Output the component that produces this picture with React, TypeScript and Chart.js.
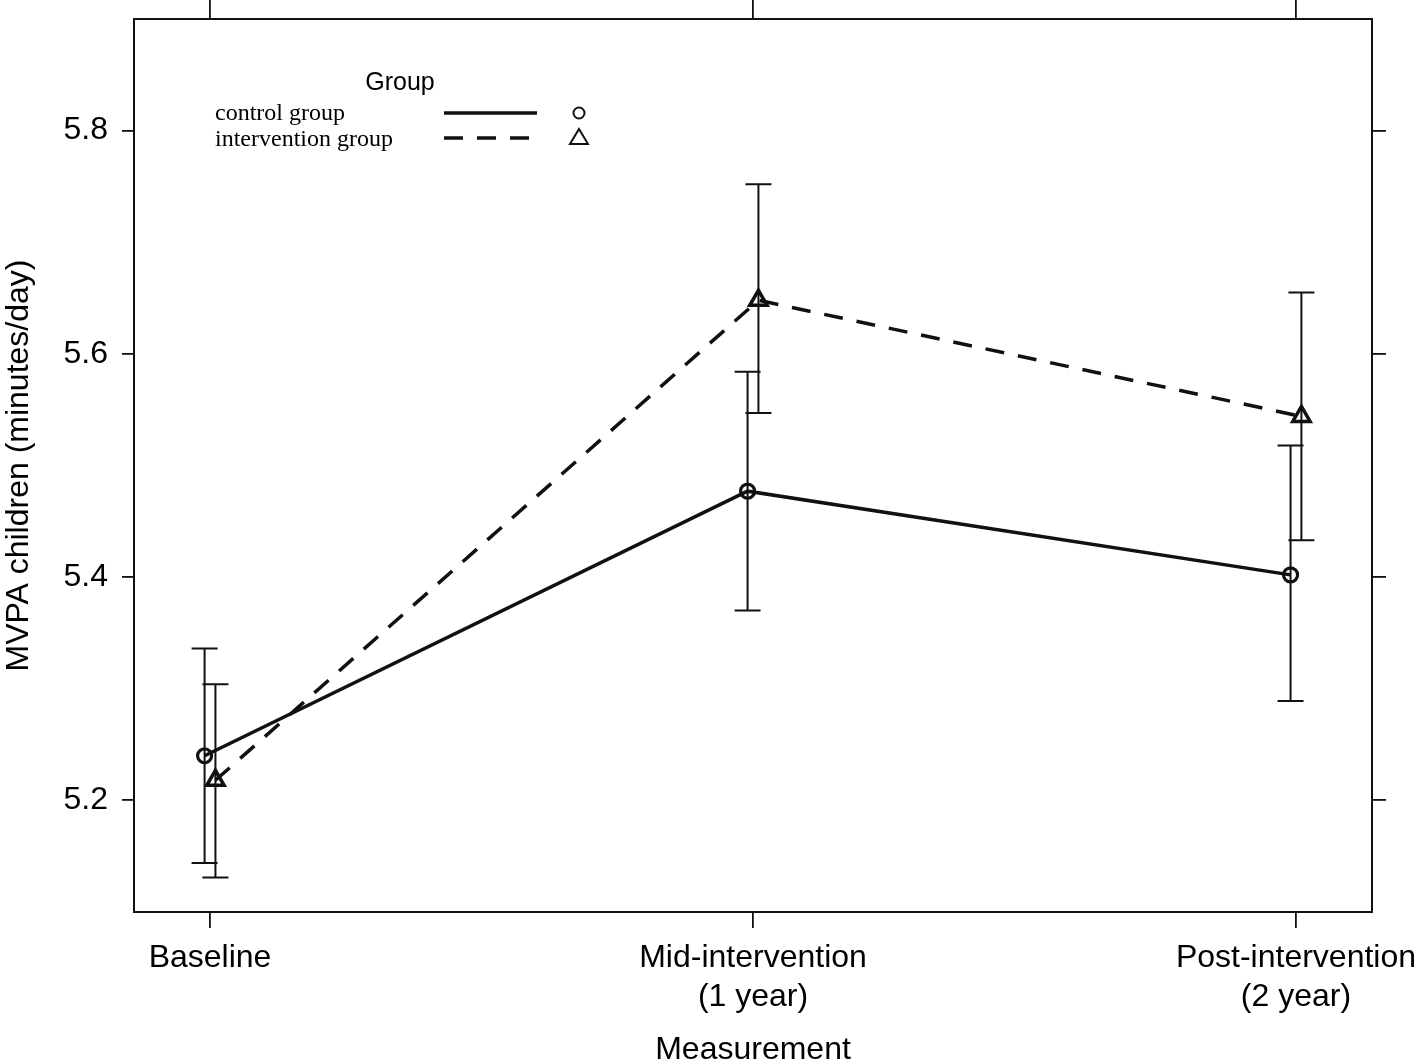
import React, { useEffect, useRef } from "react";
import { Chart, registerables } from "chart.js";

Chart.register(...registerables);

const categories: (string | string[])[] = [
  "Baseline",
  ["Mid-intervention", "(1 year)"],
  ["Post-intervention", "(2 year)"],
];
const categoryPositions = [0, 1, 2];
const yTicks = [5.2, 5.4, 5.6, 5.8];

const controlMean = [5.240, 5.477, 5.402];
const controlLower = [5.144, 5.370, 5.289];
const controlUpper = [5.336, 5.584, 5.518];

const interventionMean = [5.218, 5.648, 5.544];
const interventionLower = [5.131, 5.547, 5.433];
const interventionUpper = [5.304, 5.752, 5.655];

const seriesNames = ["control group", "intervention group"];
const dodge = [-0.01, 0.01];

const INK = "#111";
const SANS = "'Liberation Sans', Arial, Helvetica, sans-serif";
const SERIF = "'Liberation Serif', 'Times New Roman', serif";

const W = 1418;
const H = 1064;
const AREA = { left: 134, top: 19, right: 1372, bottom: 912 };

const framePlugin = {
  id: "frameAndBars",
  afterDatasetsDraw(chart: any) {
    const { ctx } = chart;
    const xs = chart.scales.x;
    const ys = chart.scales.y;
    const ca = chart.chartArea;
    ctx.save();
    // frame
    ctx.strokeStyle = INK;
    ctx.lineWidth = 2;
    ctx.strokeRect(ca.left, ca.top, ca.right - ca.left, ca.bottom - ca.top);

    // error bars
    const bars = [
      { lo: controlLower, hi: controlUpper, d: dodge[0] },
      { lo: interventionLower, hi: interventionUpper, d: dodge[1] },
    ];
    ctx.lineWidth = 2;
    bars.forEach((b) => {
      categoryPositions.forEach((c, i) => {
        const px = xs.getPixelForValue(c + b.d);
        const pl = ys.getPixelForValue(b.lo[i]);
        const ph = ys.getPixelForValue(b.hi[i]);
        ctx.beginPath();
        ctx.moveTo(px, pl);
        ctx.lineTo(px, ph);
        ctx.moveTo(px - 13, pl);
        ctx.lineTo(px + 13, pl);
        ctx.moveTo(px - 13, ph);
        ctx.lineTo(px + 13, ph);
        ctx.stroke();
      });
    });

    // legend
    ctx.fillStyle = "#000";
    ctx.textBaseline = "middle";
    ctx.textAlign = "center";
    ctx.font = `25px ${SANS}`;
    ctx.fillText("Group", 400, 83);

    ctx.textAlign = "left";
    ctx.font = `24px ${SERIF}`;
    ctx.fillText(seriesNames[0], 215, 114);
    ctx.fillText(seriesNames[1], 215, 140);

    ctx.lineWidth = 3.5;
    ctx.beginPath();
    ctx.moveTo(444, 113);
    ctx.lineTo(537, 113);
    ctx.stroke();
    ctx.setLineDash([19, 14]);
    ctx.beginPath();
    ctx.moveTo(444, 138);
    ctx.lineTo(537, 138);
    ctx.stroke();
    ctx.setLineDash([]);

    ctx.lineWidth = 2;
    ctx.beginPath();
    ctx.arc(579, 113, 5.5, 0, Math.PI * 2);
    ctx.stroke();
    ctx.beginPath();
    ctx.moveTo(579, 129);
    ctx.lineTo(588, 144);
    ctx.lineTo(570, 144);
    ctx.closePath();
    ctx.stroke();
    ctx.restore();
  },
};

function setBox(size: number, horizontal: boolean) {
  return (scale: any) => {
    if (horizontal) scale.height = size;
    else scale.width = size;
    scale.paddingLeft = 0;
    scale.paddingRight = 0;
    scale.paddingTop = 0;
    scale.paddingBottom = 0;
  };
}

export default function App() {
  const ref = useRef<HTMLCanvasElement | null>(null);

  useEffect(() => {
    if (!ref.current) return;
    const mk = (mean: number[], d: number) =>
      categoryPositions.map((c, i) => ({ x: c + d, y: mean[i] }));

    const tickGrid = (len: number) => ({
      drawOnChartArea: false,
      drawTicks: true,
      tickLength: len,
      color: INK,
      lineWidth: 1.8,
    });

    const chart = new Chart(ref.current, {
      type: "line",
      data: {
        datasets: [
          {
            label: seriesNames[0],
            data: mk(controlMean, dodge[0]),
            borderColor: INK,
            borderWidth: 3.5,
            pointStyle: "circle",
            pointRadius: 7,
            pointBorderWidth: 3.2,
            pointBorderColor: INK,
            pointBackgroundColor: "rgba(0,0,0,0)",
            tension: 0,
            fill: false,
            clip: false as any,
          },
          {
            label: seriesNames[1],
            data: mk(interventionMean, dodge[1]),
            borderColor: INK,
            borderWidth: 3.5,
            borderDash: [19, 14],
            pointStyle: "triangle",
            pointRadius: 10,
            pointBorderWidth: 3.5,
            pointBorderColor: INK,
            pointBackgroundColor: "rgba(0,0,0,0)",
            tension: 0,
            fill: false,
            clip: false as any,
          },
        ],
      },
      options: {
        responsive: false,
        animation: false,
        layout: { padding: 0 },
        plugins: {
          legend: { display: false },
          tooltip: { enabled: false },
        },
        scales: {
          x: {
            type: "linear",
            position: "bottom",
            min: -0.14,
            max: 2.14,
            afterBuildTicks: (s: any) => {
              s.ticks = categoryPositions.map((v) => ({ value: v }));
            },
            afterFit: setBox(H - AREA.bottom, true),
            grid: tickGrid(16),
            border: { display: false },
            ticks: {
              autoSkip: false,
              maxRotation: 0,
              minRotation: 0,
              padding: 11,
              color: "#000",
              font: { family: SANS, size: 32, lineHeight: 1.22 },
              callback: (v: any) => categories[categoryPositions.indexOf(Number(v))] as any,
            },
            title: {
              display: true,
              text: "Measurement",
              color: "#000",
              padding: 0,
              font: { family: SANS, size: 32, lineHeight: 0.85 },
            },
          },
          x2: {
            type: "linear",
            position: "top",
            min: -0.14,
            max: 2.14,
            afterBuildTicks: (s: any) => {
              s.ticks = categoryPositions.map((v) => ({ value: v }));
            },
            afterFit: setBox(AREA.top, true),
            grid: tickGrid(19),
            border: { display: false },
            ticks: { display: false },
          },
          y: {
            type: "linear",
            position: "left",
            min: 5.1,
            max: 5.9,
            afterBuildTicks: (s: any) => {
              s.ticks = yTicks.map((v) => ({ value: v }));
            },
            afterFit: setBox(AREA.left, false),
            grid: tickGrid(12),
            border: { display: false },
            ticks: {
              padding: 14,
              color: "#000",
              font: { family: SANS, size: 32 },
              callback: (v: any) => Number(v).toFixed(1),
            },
            title: {
              display: true,
              text: "MVPA children (minutes/day)",
              color: "#000",
              padding: 0,
              font: { family: SANS, size: 32, lineHeight: 1.2 },
            },
          },
          y2: {
            type: "linear",
            position: "right",
            min: 5.1,
            max: 5.9,
            afterBuildTicks: (s: any) => {
              s.ticks = yTicks.map((v) => ({ value: v }));
            },
            afterFit: setBox(W - AREA.right, false),
            grid: tickGrid(14),
            border: { display: false },
            ticks: { display: false },
          },
        },
      } as any,
      plugins: [framePlugin],
    });
    return () => chart.destroy();
  }, []);

  return (
    <div style={{ position: "absolute", left: 0, top: 0, width: W, height: H, background: "#fff" }}>
      <canvas ref={ref} width={W} height={H} style={{ display: "block" }} />
    </div>
  );
}
